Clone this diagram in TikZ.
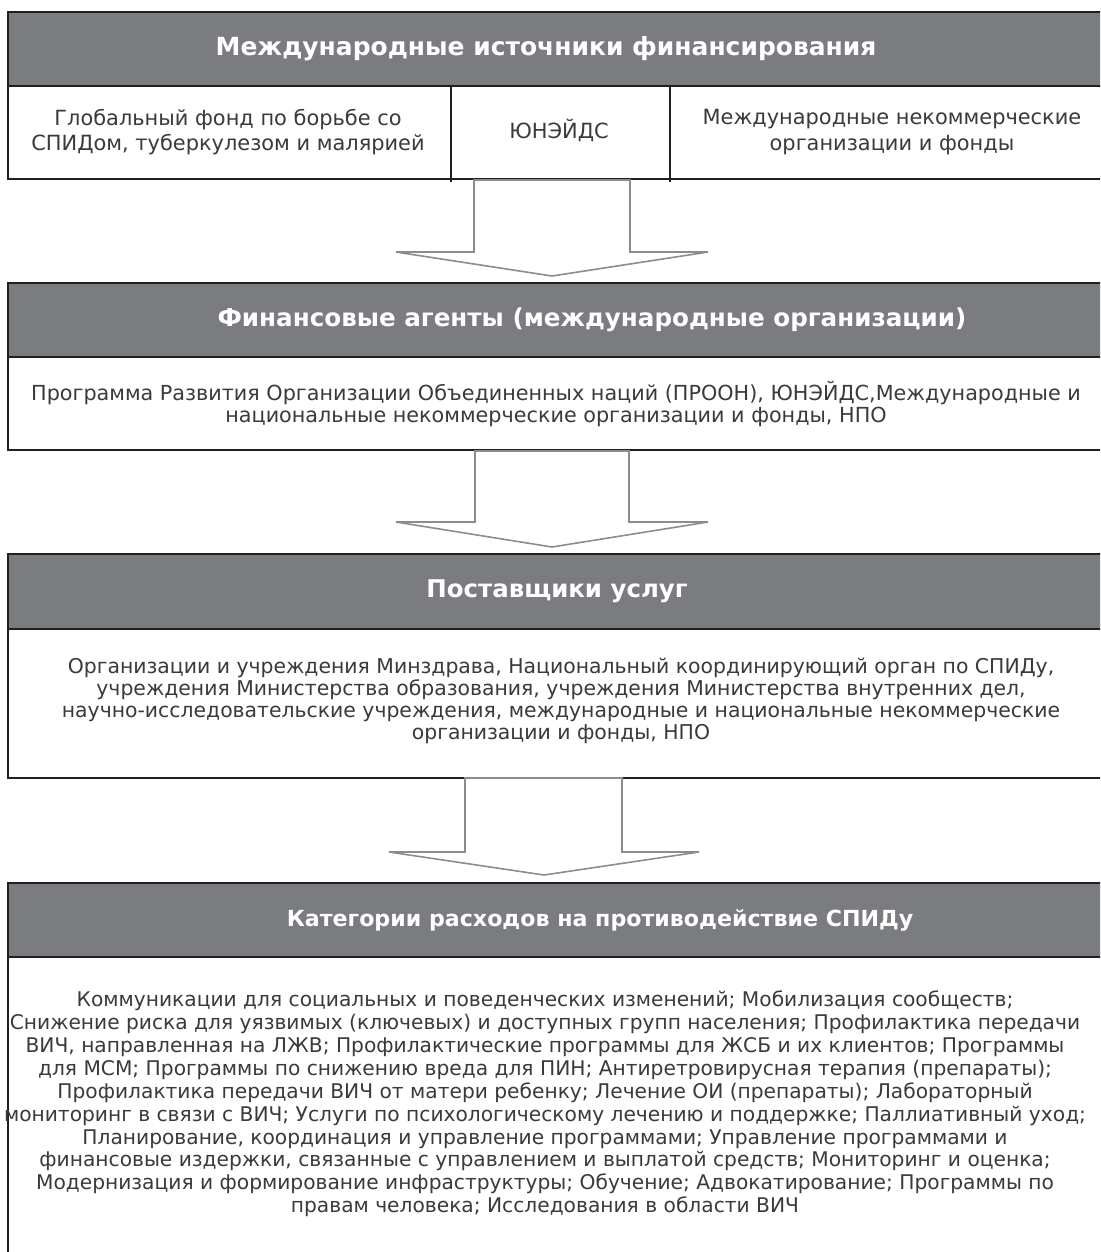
\documentclass[tikz,border=0pt]{standalone}
\usepackage{fontspec}
\setmainfont{DejaVu Sans}

\definecolor{headgray}{HTML}{7B7C80}
\definecolor{framecol}{HTML}{231F20}
\definecolor{arrowgray}{HTML}{8C8C8C}
\definecolor{textcol}{HTML}{3A3A3A}

\tikzset{
  frame/.style={draw=framecol, line width=1.3pt},
  headbox/.style={frame, fill=headgray},
  headtext/.style={text=white, inner sep=0pt, font=\bfseries\fontsize{14}{17}\selectfont},
  bodytext/.style={text=textcol, align=center, inner sep=0pt, font=\fontsize{11.5}{13}\selectfont},
  blockarrow/.style={draw=arrowgray, line width=0.9pt, fill=white, line join=miter}
}

\begin{document}
\begin{tikzpicture}[x=0.02cm, y=-0.02cm]
\clip (0,0) rectangle (1100,1252);
\fill[white] (0,0) rectangle (1100,1252);

% international sources
\draw[headbox] (8,12) rectangle (1112,86);
\draw[frame] (8,86) -- (8,179) -- (1112,179);
\draw[frame] (451,86) -- (451,182);
\draw[frame] (670,86) -- (670,182);
\node[headtext, font=\bfseries\fontsize{14.2}{17}\selectfont] (sources) at (546,49) {Международные источники финансирования};
\node[bodytext, font=\fontsize{11.9}{14.6}\selectfont] (globalfund) at (228,132) {Глобальный фонд по борьбе со\\СПИДом, туберкулезом и малярией};
\node[bodytext, font=\fontsize{11.9}{14.6}\selectfont] (unaids) at (559,130) {ЮНЭЙДС};
\node[bodytext, font=\fontsize{11.9}{14.6}\selectfont] (intngo) at (892,132) {Международные некоммерческие\\организации и фонды};

\draw[blockarrow] (474,180) -- (630,180) -- (630,252) -- (708,252) -- (552,276) -- (396,252) -- (474,252) -- cycle;

% financial agents
\draw[headbox] (8,283) rectangle (1112,357);
\draw[frame] (8,357) -- (8,450) -- (1112,450);
\node[headtext] (agents) at (592,320) {Финансовые агенты (международные организации)};
\node[bodytext, font=\fontsize{11.8}{12.8}\selectfont] (agentlist) at (556,404) {Программа Развития Организации Объединенных наций (ПРООН), ЮНЭЙДС,Международные и\\национальные некоммерческие организации и фонды, НПО};

\draw[blockarrow] (475,451) -- (629,451) -- (629,522) -- (708,522) -- (552,547) -- (396,522) -- (475,522) -- cycle;

% service providers
\draw[headbox] (8,554) rectangle (1112,629);
\draw[frame] (8,629) -- (8,778) -- (1112,778);
\node[headtext, font=\bfseries\fontsize{13.9}{17}\selectfont] (providers) at (557,591) {Поставщики услуг};
\node[bodytext, font=\fontsize{11.6}{12.6}\selectfont] (providerlist) at (561,701) {Организации и учреждения Минздрава, Национальный координирующий орган по СПИДу,\\учреждения Министерства образования, учреждения Министерства внутренних дел,\\научно-исследовательские учреждения, международные и национальные некоммерческие\\организации и фонды, НПО};

\draw[blockarrow] (465,778) -- (622,778) -- (622,852) -- (699,852) -- (544,875) -- (389,852) -- (465,852) -- cycle;

% spending categories
\draw[headbox] (8,883) rectangle (1112,957);
\draw[frame] (8,957) -- (8,1262);
\node[headtext, font=\bfseries\fontsize{12.6}{15}\selectfont] (categories) at (600,920) {Категории расходов на противодействие СПИДу};
\node[bodytext] (categorylist) at (545,1104) {Коммуникации для социальных и поведенческих изменений; Мобилизация сообществ;\\
Снижение риска для уязвимых (ключевых) и доступных групп населения; Профилактика передачи\\
ВИЧ, направленная на ЛЖВ; Профилактические программы для ЖСБ и их клиентов; Программы\\
для МСМ; Программы по снижению вреда для ПИН; Антиретровирусная терапия (препараты);\\
Профилактика передачи ВИЧ от матери ребенку; Лечение ОИ (препараты); Лабораторный\\
мониторинг в связи с ВИЧ; Услуги по психологическому лечению и поддержке; Паллиативный уход;\\
Планирование, координация и управление программами; Управление программами и\\
финансовые издержки, связанные с управлением и выплатой средств; Мониторинг и оценка;\\
Модернизация и формирование инфраструктуры; Обучение; Адвокатирование; Программы по\\
правам человека; Исследования в области ВИЧ};
\end{tikzpicture}
\end{document}
